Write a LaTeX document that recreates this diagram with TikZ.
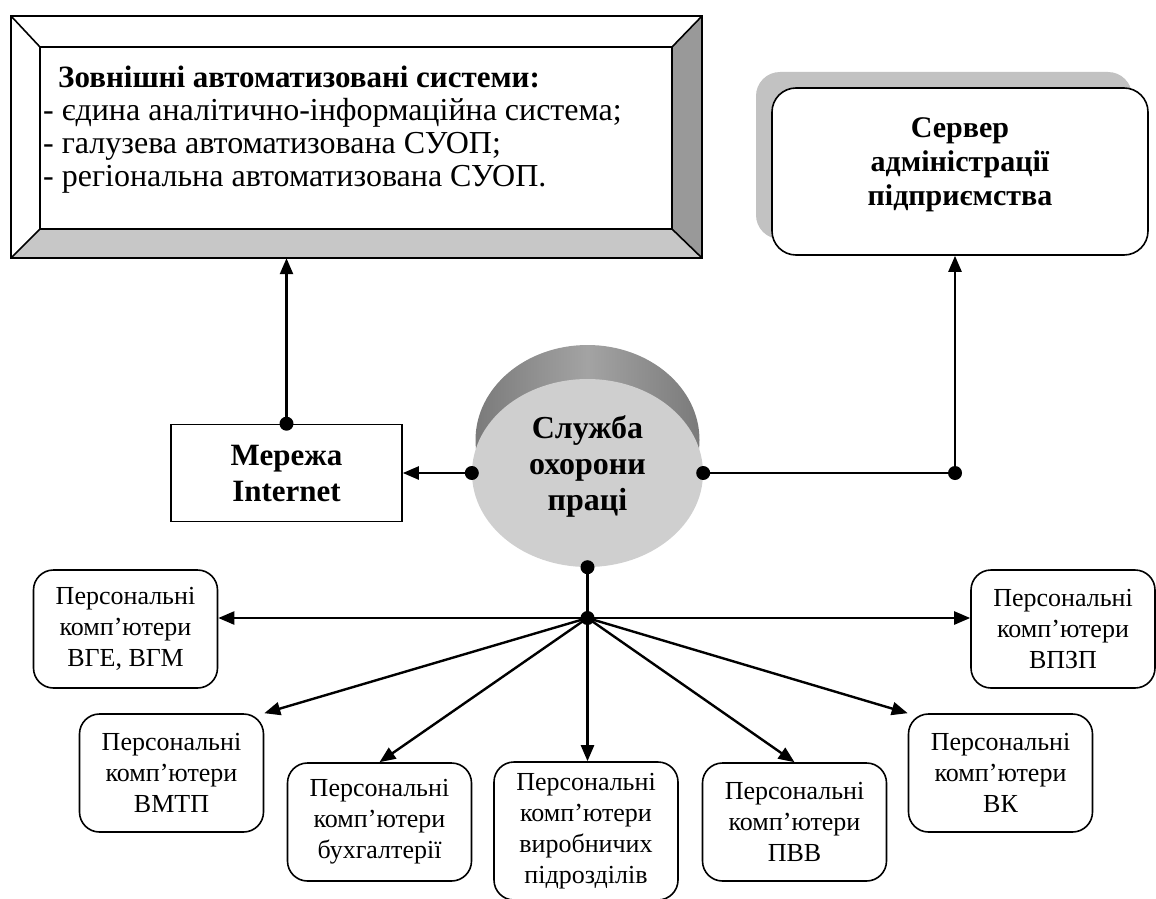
\documentclass[tikz,border=0pt]{standalone}
\usepackage{fontspec}
\setmainfont{Liberation Serif}
\usetikzlibrary{arrows.meta,shapes.geometric,shadows,calc}
\begin{document}
\begin{tikzpicture}[x=1pt,y=-1pt,
  conn/.style={line width=2.4pt},
  arr/.style={conn,-{Triangle[length=16pt,width=13pt]}},
  dotn/.style={circle,fill=black,inner sep=0pt,minimum size=14pt},
  pcbox/.style={draw,line width=1.6pt,rounded corners=20pt,minimum width=184pt,minimum height=118pt,align=center,font=\fontsize{26}{31}\selectfont,inner sep=0pt},
  boldtxt/.style={font=\fontsize{30}{34}\selectfont\bfseries,align=center},
  toptxt/.style={anchor=base west,inner sep=0pt,font=\fontsize{32}{33}\selectfont}
]
\useasboundingbox (0,0) rectangle (1156,899);
% external systems bevel box
\fill[white] (11,16) rectangle (702,258);
\fill[black!40] (702,16) -- (702,258) -- (672,229) -- (672,47) -- cycle;
\fill[black!22] (11,258) -- (702,258) -- (672,229) -- (40,229) -- cycle;
\draw[line width=2pt] (11,16) rectangle (702,258);
\draw[line width=1.6pt] (40,47) rectangle (672,229);
\draw[line width=1.6pt] (11,16) -- (40,47) (702,16) -- (672,47) (702,258) -- (672,229) (11,258) -- (40,229);
\node[minimum width=691pt,minimum height=242pt,inner sep=0pt] (ext) at (356.5,137) {};
\node[toptxt,font=\fontsize{31}{33}\selectfont\bfseries] (t1) at (58,88) {Зовнішні автоматизовані системи:};
\node[toptxt] (t2) at (43,120) {- єдина аналітично-інформаційна система;};
\node[toptxt] (t3) at (43,153) {- галузева автоматизована СУОП;};
\node[toptxt] (t4) at (43,186) {- регіональна автоматизована СУОП.};
% server
\node[draw,line width=1.6pt,rounded corners=24pt,fill=white,minimum width=376pt,minimum height=167pt,
  drop shadow={shadow xshift=-16pt,shadow yshift=16pt,fill=black!24,opacity=1}] (srv) at (960,171.5) {};
\node[boldtxt] (srvt) at ([yshift=7pt]srv.center) {Сервер\\адміністрації\\підприємства};
% internet
\node[draw,line width=1.6pt,minimum width=231pt,minimum height=97pt,boldtxt,font=\fontsize{31}{36}\selectfont\bfseries,inner sep=0pt] (inet) at (286.5,473) {Мережа\\Internet};
% service circle
\shade[left color=black!52,right color=black!52,middle color=black!36] (587.5,440) ellipse [x radius=112pt,y radius=95pt];
\node[ellipse,fill=black!19,minimum width=231pt,minimum height=188pt,inner sep=0pt] (svc) at (587.5,473) {};
\node[boldtxt,font=\fontsize{32}{36}\selectfont\bfseries] (svct) at ([yshift=7pt]svc.center) {Служба\\охорони\\праці};
% PC boxes
\node[pcbox] (b1) at (125.5,629) {Персональні\\комп’ютери\\ВГЕ, ВГМ};
\node[pcbox] (b2) at (171.5,773) {Персональні\\комп’ютери\\ВМТП};
\node[pcbox] (b3) at (379.5,822) {Персональні\\комп’ютери\\бухгалтерії};
\node[pcbox,minimum height=138pt] (b4) at (586,831) {Персональні\\комп’ютери\\виробничих\\підрозділів};
\node[pcbox] (b5) at (794.5,822) {Персональні\\комп’ютери\\ПВВ};
\node[pcbox] (b6) at (1000.5,773) {Персональні\\комп’ютери\\ВК};
\node[pcbox] (b7) at (1063,629) {Персональні\\комп’ютери\\ВПЗП};
% connectors
\coordinate (rj) at (955,473);
\coordinate (hub) at (587.5,618);
\draw[arr] (inet.north) -- (inet.north |- ext.south);
\draw[arr] (svc.west) -- (inet.east);
\draw[conn] (svc.east) -- (rj);
\draw[arr] (rj) -- (rj |- srv.south);
\draw[conn] (svc.south) -- (hub);
\draw[arr] (hub) -- (hub -| b1.east);
\draw[arr] (hub) -- (hub -| b7.west);
\draw[arr] (hub) -- (b2.north east);
\draw[arr] (hub) -- (b3.north);
\draw[arr] (hub) -- (hub |- b4.north);
\draw[arr] (hub) -- (b5.north);
\draw[arr] (hub) -- (b6.north west);
% dots
\node[dotn] (dA) at (inet.north) {};
\node[dotn] (dB) at (svc.west) {};
\node[dotn] (dC) at (svc.east) {};
\node[dotn] (dD) at (rj) {};
\node[dotn] (dE) at (svc.south) {};
\node[dotn] (dF) at (hub) {};
\end{tikzpicture}
\end{document}
